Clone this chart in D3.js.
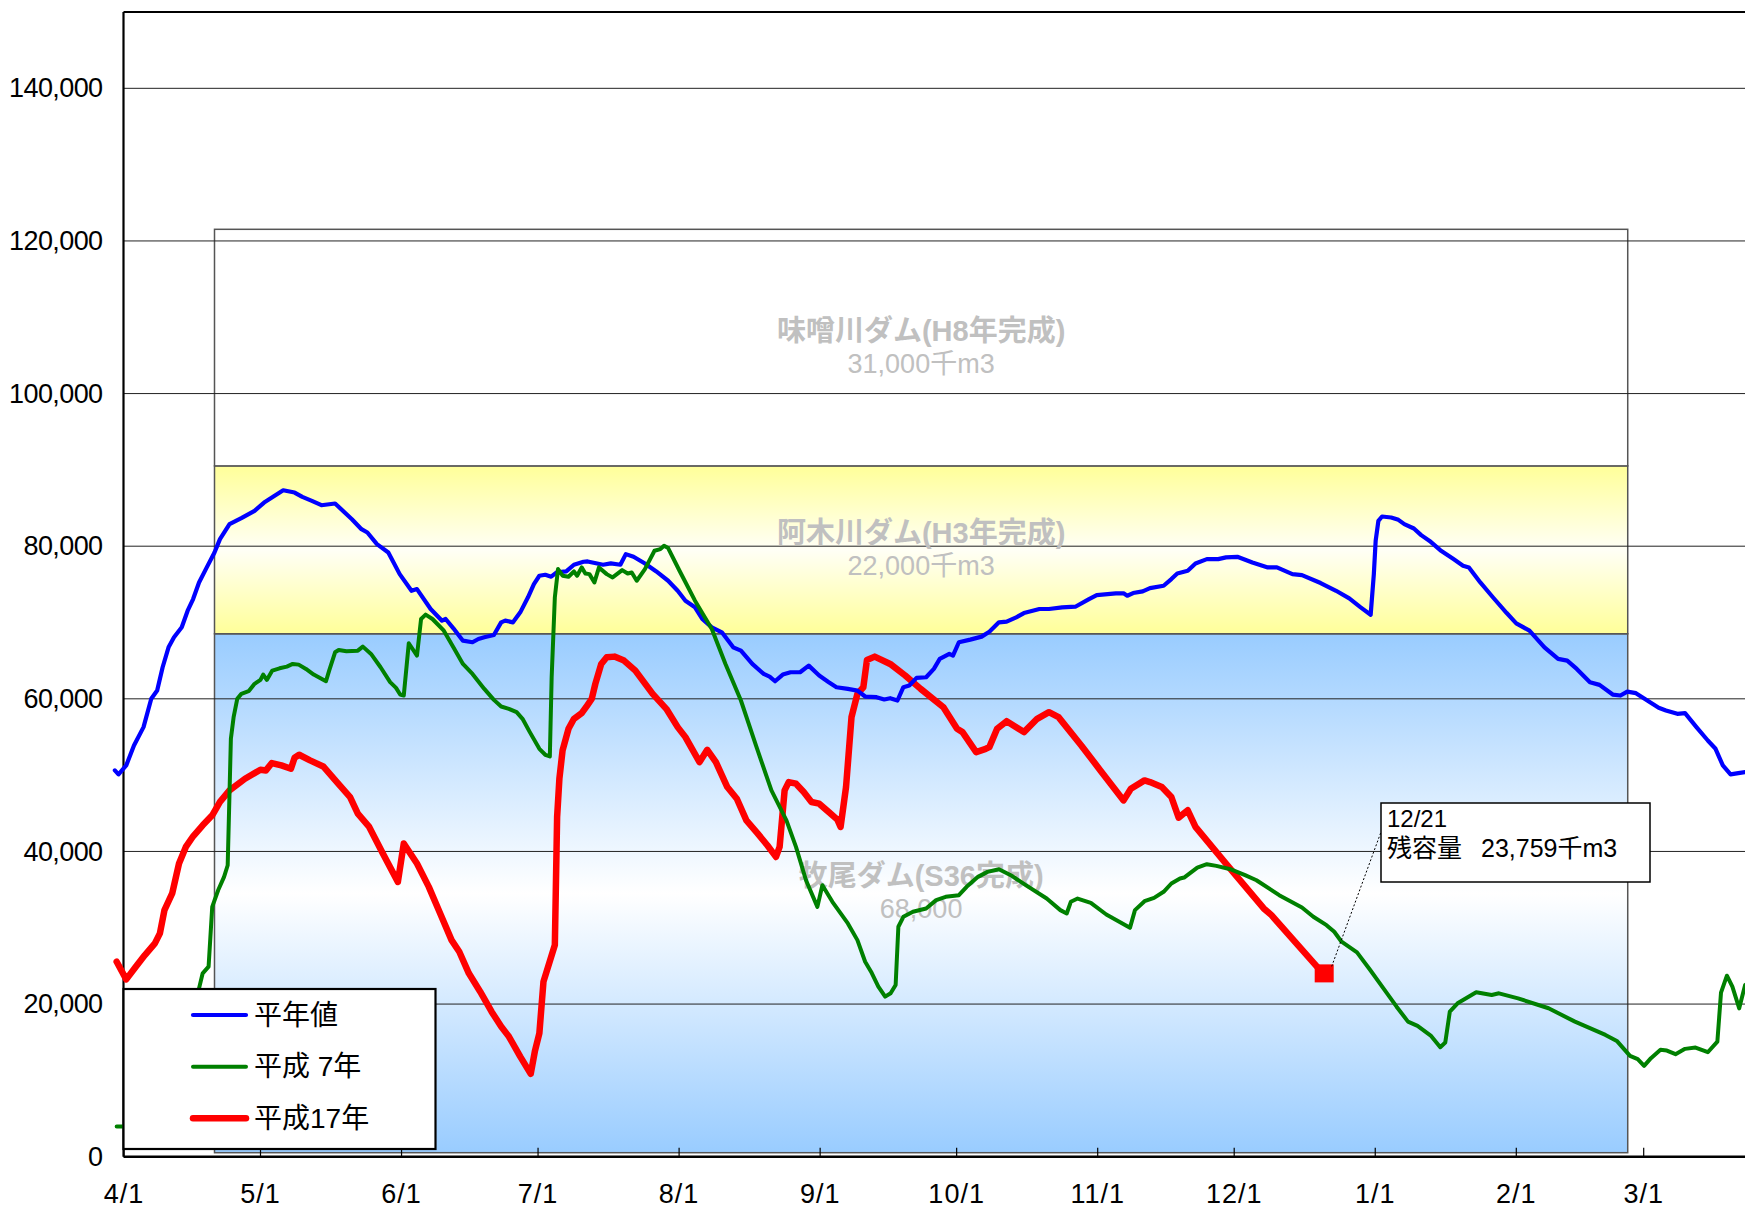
<!DOCTYPE html>
<html><head><meta charset="utf-8">
<script src="https://cdn.jsdelivr.net/npm/d3@7"></script>
<style>
html,body{margin:0;padding:0;background:#fff;overflow:hidden}
svg{display:block;font-family:"Liberation Sans","Noto Sans CJK JP",sans-serif}
</style></head><body>
<svg id="chart" width="1745" height="1210"></svg>
<script>
// ---------- data ----------
const monthLabels = ["4/1","5/1","6/1","7/1","8/1","9/1","10/1","11/1","12/1","1/1","2/1","3/1"];
const monthDays   = [0, 30, 61, 91, 122, 153, 183, 214, 244, 275, 306, 334]; // days since 4/1
const yTickValues = [0, 20000, 40000, 60000, 80000, 100000, 120000, 140000];

const damNames      = ["牧尾ダム(S36完成)", "阿木川ダム(H3年完成)", "味噌川ダム(H8年完成)"];
const damCapText    = ["68,000", "22,000千m3", "31,000千m3"];
const damCapacities = [68000, 22000, 31000];
const damSpanDays   = [20, 330.6];

const seriesNames = ["平年値", "平成 7年", "平成17年"];

// [day since 4/1, storage (千m3)]
const normalYear = [[-1.9,50620],[-1.1,50100],[0.6,51270],[2.3,53890],[4.4,56290],[6.1,60000],[7.4,61080],[8.6,64140],[9.9,66750],[11.1,68060],[12.8,69370],[14.1,71550],[15.3,73070],[16.6,75250],[18.3,77220],[20.0,79180],[21.2,80920],[23.3,82890],[25.9,83670],[28.8,84630],[30.9,85720],[35.1,87330],[37.6,87030],[39.3,86460],[41.4,85940],[43.5,85370],[46.5,85590],[50.2,83540],[52.3,82230],[53.6,81790],[55.7,80270],[58.2,79180],[60.7,76340],[63.3,74160],[64.5,74380],[67.5,71770],[70.0,70240],[70.8,70460],[72.5,69240],[74.6,67620],[76.7,67410],[78.0,67840],[79.3,68060],[81.4,68370],[83.0,70020],[83.9,70240],[85.6,70020],[87.2,71330],[88.9,73300],[90.2,75040],[91.4,76130],[92.7,76260],[94.0,76000],[95.2,76560],[97.3,76690],[99.0,77570],[101.1,77960],[102.0,78000],[105.4,77570],[107.1,77740],[109.2,77570],[110.4,78960],[112.1,78610],[114.6,77740],[117.1,76690],[119.7,75470],[121.8,74160],[123.5,72860],[125.6,71990],[127.2,70460],[129.3,69370],[131.5,68710],[134.0,66750],[135.7,66310],[138.2,64570],[140.7,63260],[142.0,62910],[143.2,62300],[144.9,63180],[146.6,63480],[148.7,63480],[150.6,64350],[152.9,63050],[155.0,62180],[156.7,61520],[159.2,61300],[161.3,61080],[163.0,60300],[165.5,60210],[167.2,59910],[168.5,60080],[170.1,59780],[171.4,61520],[172.7,61740],[174.3,62740],[176.4,62830],[178.1,63920],[179.4,65230],[181.5,65880],[182.3,65660],[183.6,67410],[186.1,67760],[188.6,68150],[190.3,68800],[192.4,70020],[194.1,70110],[196.2,70680],[197.9,71240],[201.3,71770],[203.4,71770],[206.3,71990],[209.2,72070],[212.2,73070],[213.9,73600],[218.1,73820],[219.8,73820],[220.6,73510],[221.9,73860],[224.0,74080],[225.6,74510],[228.6,74820],[230.3,75690],[231.6,76430],[233.9,76780],[235.6,77740],[238.1,78310],[240.6,78310],[242.3,78530],[244.8,78610],[248.1,77870],[251.5,77220],[253.5,77220],[256.9,76340],[259.0,76210],[263.1,75170],[266.5,74160],[269.4,73160],[271.9,71990],[274.1,71020],[274.8,76340],[275.2,80710],[275.8,83320],[276.6,83890],[278.6,83760],[280.2,83450],[281.5,82890],[283.6,82320],[285.2,81450],[287.3,80570],[289.4,79480],[292.3,78310],[294.4,77440],[295.7,77220],[298.2,75250],[301.1,73210],[304.0,71240],[306.1,69890],[309.0,68930],[312.3,66750],[315.3,65230],[317.3,65010],[319.4,63920],[322.3,62180],[324.4,61830],[327.3,60560],[329.0,60430],[330.5,60950],[332.4,60740],[334.9,59780],[337.4,58820],[339.0,58470],[341.5,58030],[343.2,58120],[345.7,56290],[348.2,54540],[349.9,53450],[351.5,51270],[353.2,50100],[354.9,50270],[356.4,50400],[358.0,50500]];

const heisei7 = [[-1.5,3970],[0,3970],[4,4500],[8,7000],[12,12000],[15,18000],[16.6,22060],[17.4,24030],[18.7,24900],[19.5,32740],[20.8,34920],[22.1,36670],[22.9,38190],[23.6,54760],[24.2,57600],[25.0,60000],[25.9,60650],[27.5,61000],[28.8,61960],[30.1,62480],[30.7,63180],[31.5,62480],[32.7,63700],[34.3,64000],[35.9,64220],[37.2,64570],[38.5,64480],[40.1,63920],[41.8,63180],[44.5,62300],[45.2,63700],[46.5,66100],[47.3,66400],[49.0,66230],[51.5,66310],[52.6,66840],[54.4,65880],[56.5,64140],[58.6,62180],[59.9,61430],[60.8,60560],[61.6,60430],[62.7,67280],[64.5,65660],[65.4,70460],[66.4,71030],[67.9,70460],[70.4,68930],[72.5,66750],[74.6,64570],[76.7,63260],[79.3,61300],[81.4,59860],[83.0,58990],[84.7,58690],[86.4,58250],[87.7,57380],[89.3,55640],[91.4,53450],[92.7,52670],[93.7,52450],[94.1,62830],[94.8,73290],[95.5,77000],[96.5,76130],[97.8,76000],[99.0,76690],[99.7,76130],[100.7,77220],[101.5,76430],[102.4,76340],[103.5,75250],[104.5,77220],[106.2,76340],[107.5,75910],[109.6,76870],[110.8,76430],[111.7,76560],[112.8,75470],[114.6,77000],[116.7,79400],[118.0,79620],[118.8,80050],[119.7,79750],[122.2,76780],[125.6,72860],[129.3,69150],[132.3,64570],[135.7,59780],[139.0,53890],[142.4,48000],[145.7,44080],[147.8,40590],[150.0,36230],[152.5,32740],[153.6,35580],[155.8,33400],[159.2,30570],[161.3,28380],[163.0,25550],[164.3,24240],[165.9,22280],[167.4,20970],[168.6,21410],[169.7,22500],[170.3,30130],[171.4,31440],[173.5,32090],[176.4,32530],[178.6,33620],[180.7,34050],[183.6,34270],[185.3,35360],[187.8,36670],[189.9,37320],[192.4,37670],[195.0,36890],[198.3,35580],[202.9,33830],[205.9,32310],[207.3,31870],[208.2,33400],[209.7,33830],[212.6,33270],[216.0,31740],[221.2,29990],[222.3,32310],[224.4,33480],[226.5,33920],[228.6,34710],[230.3,35800],[232.2,36450],[233.1,36580],[236.0,37890],[238.1,38330],[240.2,38110],[243.5,37630],[246.5,36890],[249.0,36230],[254.0,34270],[259.0,32660],[261.5,31440],[264.4,30340],[266.1,29470],[267.7,28170],[271.1,26770],[274.0,24460],[277.7,21410],[279.8,19660],[282.3,17700],[284.4,17140],[287.3,15870],[289.4,14350],[290.5,14960],[291.5,19010],[293.2,20100],[297.3,21540],[300.7,21190],[302.3,21410],[306.5,20750],[313.2,19450],[319.0,17700],[325.7,15960],[328.2,15170],[331.1,13210],[332.8,12780],[334.2,11900],[335.7,12910],[337.8,14000],[339.2,13910],[341.1,13430],[343.2,14130],[345.5,14300],[348.2,13690],[350.3,15080],[351.1,21490],[352.4,23720],[353.6,22280],[355.1,19440],[356.4,22500],[358.0,23000]];

const heisei17 = [[-1.5,25550],[0.6,23240],[2.7,24900],[4.7,26420],[6.9,27950],[8.0,29260],[9.0,32310],[10.7,34490],[12.2,38410],[13.7,40590],[15.3,41990],[17.4,43430],[19.5,44740],[21.2,46500],[23.3,48000],[26.7,49530],[30.1,50710],[31.3,50620],[32.6,51580],[34.7,51270],[36.8,50840],[37.6,52280],[38.6,52670],[41.0,51930],[43.9,51140],[46.9,49090],[49.8,47130],[51.5,44950],[54.0,43210],[57.0,39720],[60.3,36010],[61.6,41030],[64.5,38410],[67.1,35360],[69.6,31870],[72.1,28380],[73.8,26860],[75.9,24030],[78.4,21620],[80.9,19010],[83.0,17050],[84.7,15740],[87.2,13120],[89.5,10860],[90.4,13780],[91.4,16180],[92.3,22940],[94.0,26200],[94.8,27730],[95.3,44520],[95.8,49530],[96.5,53240],[97.8,56070],[99.0,57380],[100.7,58120],[101.9,59120],[102.9,59990],[103.7,61960],[105.0,64570],[106.2,65450],[107.9,65530],[110.0,65010],[112.5,63700],[116.3,60650],[119.3,58690],[121.8,56290],[123.5,54980],[126.6,51710],[128.3,53320],[130.2,51710],[132.7,48440],[134.8,46910],[136.9,44080],[139.4,42340],[141.5,40810],[143.4,39280],[144.2,40590],[145.3,48000],[146.2,49090],[147.8,48880],[149.5,47790],[151.2,46480],[152.9,46260],[155.0,45170],[156.9,44170],[157.6,43210],[158.8,48440],[160.0,57600],[161.3,60650],[162.6,61520],[163.4,65100],[165.1,65530],[168.5,64570],[171.8,63050],[175.2,61300],[180.2,58900],[183.2,56070],[184.4,55640],[187.4,53020],[189.5,53450],[190.3,53670],[192.0,56070],[194.1,57070],[197.9,55640],[200.8,57380],[203.4,58250],[205.5,57600],[210.5,53890],[214.7,50620],[219.8,46690],[221.4,48220],[224.4,49310],[225.6,49090],[228.2,48440],[230.3,47130],[231.9,44430],[233.9,45390],[235.6,43210],[242.3,38410],[250.6,32530],[252.3,31650],[262.3,24900],[264.0,23759]];

const latestDay = 264;
const latestDate = "12/21";
const latestValue = 23759;
const latestCaption = "残容量";
const latestAmount = "23,759千m3";

// ---------- layout ----------
const W = 1745, H = 1210;
const x0 = 123.5, pxPerDay = 4.55;
const x = d3.scaleLinear().domain([0, 365]).range([x0, x0 + 365 * pxPerDay]);
const y = d3.scaleLinear().domain([0, 150000]).range([1156.7, 12]);

const svg = d3.select("#chart");
const defs = svg.append("defs");
function band(id, c1, c2) {
  const g = defs.append("linearGradient").attr("id", id).attr("x1", 0).attr("x2", 0).attr("y1", 0).attr("y2", 1);
  g.append("stop").attr("offset", "0%").attr("stop-color", c1);
  g.append("stop").attr("offset", "50%").attr("stop-color", c2);
  g.append("stop").attr("offset", "100%").attr("stop-color", c1);
}
band("gBlue", "#99ccff", "#ffffff");
band("gYellow", "#ffff99", "#fffff6");
const bandFills = ["url(#gBlue)", "url(#gYellow)", "#ffffff"];

// dam bands (drawn as shapes slightly raised, as in the original)
let base = 0;
const bands = damCapacities.map((c, i) => { const b = {i, lo: base, hi: base + c}; base += c; return b; });
const gb = svg.append("g").attr("transform", "translate(0,-4)");
gb.selectAll("rect").data(bands).join("rect")
  .attr("x", x(damSpanDays[0])).attr("width", x(damSpanDays[1]) - x(damSpanDays[0]))
  .attr("y", d => y(d.hi)).attr("height", d => y(d.lo) - y(d.hi))
  .attr("fill", d => bandFills[d.i]).attr("stroke", "#555").attr("stroke-width", 1.5);

// gridlines
svg.append("g").selectAll("line").data(yTickValues.filter(v => v > 0)).join("line")
  .attr("x1", x0).attr("x2", W).attr("y1", d => y(d)).attr("y2", d => y(d))
  .attr("stroke", "#222").attr("stroke-width", 1);

// band labels
const cx = (x(damSpanDays[0]) + x(damSpanDays[1])) / 2;
const gl = svg.append("g").attr("fill", "#c0c0c0").attr("text-anchor", "middle").attr("transform", "translate(0,-4)");
bands.forEach(b => {
  const cy = (y(b.lo) + y(b.hi)) / 2;
  gl.append("text").attr("x", cx).attr("y", cy - 17).attr("dominant-baseline", "central")
    .attr("font-size", 29).attr("font-weight", "bold").text(damNames[b.i]);
  gl.append("text").attr("x", cx).attr("y", cy + 16).attr("dominant-baseline", "central")
    .attr("font-size", 27).text(damCapText[b.i]);
});

// axes
const yAxis = d3.axisLeft(y).tickValues(yTickValues).tickFormat(d3.format(",")).tickSize(0).tickPadding(21);
const gy = svg.append("g").attr("transform", `translate(${x0},0)`).call(yAxis);
gy.select(".domain").remove();
gy.selectAll("text").attr("font-size", 27).attr("letter-spacing", "-0.6px").attr("fill", "#000")
  .attr("font-family", "Liberation Sans, sans-serif");

const xAxis = d3.axisBottom(x).tickValues(monthDays).tickFormat((d, i) => monthLabels[i])
  .tickSizeInner(-9).tickSizeOuter(0).tickPadding(27);
const gx = svg.append("g").attr("transform", `translate(0,${y(0)})`).call(xAxis);
gx.select(".domain").remove();
gx.selectAll(".tick line").attr("stroke", "#000").attr("stroke-width", 1.2);
gx.selectAll("text").attr("font-size", 27).attr("fill", "#000").attr("letter-spacing", "1px")
  .attr("font-family", "Liberation Sans, sans-serif");

// frame
svg.append("line").attr("x1", x0).attr("x2", W).attr("y1", y(150000)).attr("y2", y(150000)).attr("stroke", "#000").attr("stroke-width", 2);
svg.append("line").attr("x1", x0).attr("x2", x0).attr("y1", y(150000)).attr("y2", y(0)).attr("stroke", "#000").attr("stroke-width", 2.2);
svg.append("line").attr("x1", x0).attr("x2", W).attr("y1", y(0)).attr("y2", y(0)).attr("stroke", "#000").attr("stroke-width", 2.5);

// series
const seriesData = [normalYear, heisei7, heisei17];
const colors = ["#0000ff", "#008000", "#ff0000"];
const widths = [4.2, 4, 6.5];
const line = d3.line().x(d => x(d[0])).y(d => y(d[1]));
const order = [2, 0, 1];
order.forEach(i => {
  svg.append("path").datum(seriesData[i]).attr("d", line).attr("fill", "none")
    .attr("stroke", colors[i]).attr("stroke-width", widths[i])
    .attr("stroke-linejoin", "round").attr("stroke-linecap", "round");
});

// latest marker
const mx = x(latestDay), my = y(latestValue);
svg.append("rect").attr("x", mx - 10).attr("y", my - 11).attr("width", 19).attr("height", 18).attr("fill", "#ff0000");

// annotation
const ab = {x: 1381, y: 803, w: 269, h: 79};
svg.append("line").attr("x1", mx + 7).attr("y1", my - 9).attr("x2", ab.x).attr("y2", ab.y + 29)
  .attr("stroke", "#000").attr("stroke-width", 1).attr("stroke-dasharray", "2,2");
svg.append("rect").attr("x", ab.x).attr("y", ab.y).attr("width", ab.w).attr("height", ab.h)
  .attr("fill", "#fff").attr("stroke", "#000").attr("stroke-width", 1.5);
svg.append("text").attr("x", ab.x + 6).attr("y", ab.y + 24).attr("font-size", 24).text(latestDate);
const t2 = svg.append("text").attr("x", ab.x + 6).attr("y", ab.y + 54).attr("font-size", 25);
t2.append("tspan").text(latestCaption);
t2.append("tspan").attr("dx", 19).text(latestAmount);

// legend
const lg = svg.append("g");
lg.append("rect").attr("x", x0).attr("y", 989).attr("width", 312).attr("height", 160)
  .attr("fill", "#fff").attr("stroke", "#000").attr("stroke-width", 2.2);
const legendY = [1015, 1066.7, 1118.3];
[0, 1, 2].forEach(i => {
  lg.append("line").attr("x1", 193).attr("x2", 246).attr("y1", legendY[i]).attr("y2", legendY[i])
    .attr("stroke", colors[i]).attr("stroke-width", widths[i]).attr("stroke-linecap", "round");
  lg.append("text").attr("x", 254).attr("y", legendY[i]).attr("dominant-baseline", "central")
    .attr("font-size", 28).attr("xml:space", "preserve").style("white-space", "pre").text(seriesNames[i]);
});
</script>
</body></html>
